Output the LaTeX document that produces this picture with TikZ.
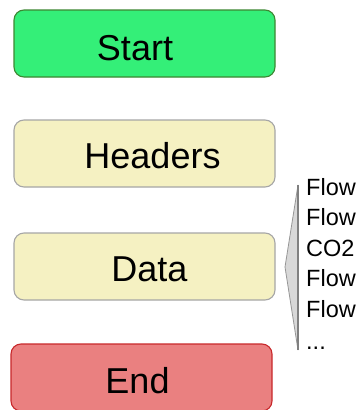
\documentclass[tikz,border=0pt]{standalone}
\usepackage{fontspec}
\setmainfont{Liberation Sans}
\definecolor{startfill}{RGB}{52,239,120}
\definecolor{startedge}{RGB}{60,135,50}
\definecolor{palefill}{RGB}{245,241,194}
\definecolor{paleedge}{RGB}{166,166,166}
\definecolor{endfill}{RGB}{234,128,128}
\definecolor{endedge}{RGB}{200,40,43}
\definecolor{callfill}{RGB}{216,216,216}
\definecolor{calledge}{RGB}{150,150,150}
\tikzset{
  stagebox/.style={rectangle, rounded corners=10pt, minimum width=261pt,
    minimum height=67pt, inner sep=0pt, line width=1.1pt},
  stagetext/.style={anchor=base, inner sep=0pt, font=\fontsize{36}{40}\selectfont},
  fieldtext/.style={anchor=base west, inner sep=0pt, font=\fontsize{23.5}{28}\selectfont}
}
\begin{document}
\begin{tikzpicture}[x=1pt,y=-1pt]
  \fill[white] (0,0) rectangle (361,410);
  \useasboundingbox (0,0) rectangle (361,410);

  % stage boxes
  \node[stagebox, fill=startfill, draw=startedge] (start) at (144.5,43.5) {};
  \node[stagebox, fill=palefill, draw=paleedge] (headers) at (144.5,153.5) {};
  \node[stagebox, fill=palefill, draw=paleedge] (data) at (144.5,266.5) {};
  \node[stagebox, fill=endfill, draw=endedge] (end) at (141.5,377.5) {};

  % stage labels
  \node[stagetext] (starttxt) at (135,60) {Start};
  \node[stagetext] (headerstxt) at (152.5,168) {Headers};
  \node[stagetext] (datatxt) at (149.5,281) {Data};
  \node[stagetext] (endtxt) at (137.5,393) {End};

  % callout wedge listing the data fields
  \coordinate (ctop) at (298,185);
  \coordinate (ctip) at (285,267);
  \coordinate (cbot) at (298,350);
  \fill[callfill, draw=calledge, line width=0.8pt] (ctop) -- (ctip) -- (cbot) -- cycle;
  \draw[calledge!85!black, line width=1.6pt] (ctop) -- (cbot);

  \node[fieldtext] (field1) at (306,195) {Flow};
  \node[fieldtext] (field2) at (306,225.6) {Flow};
  \node[fieldtext] (field3) at (306,256.2) {CO2};
  \node[fieldtext] (field4) at (306,286.8) {Flow};
  \node[fieldtext] (field5) at (306,317.4) {Flow};
  \node[fieldtext] (field6) at (306,349) {...};
\end{tikzpicture}
\end{document}
